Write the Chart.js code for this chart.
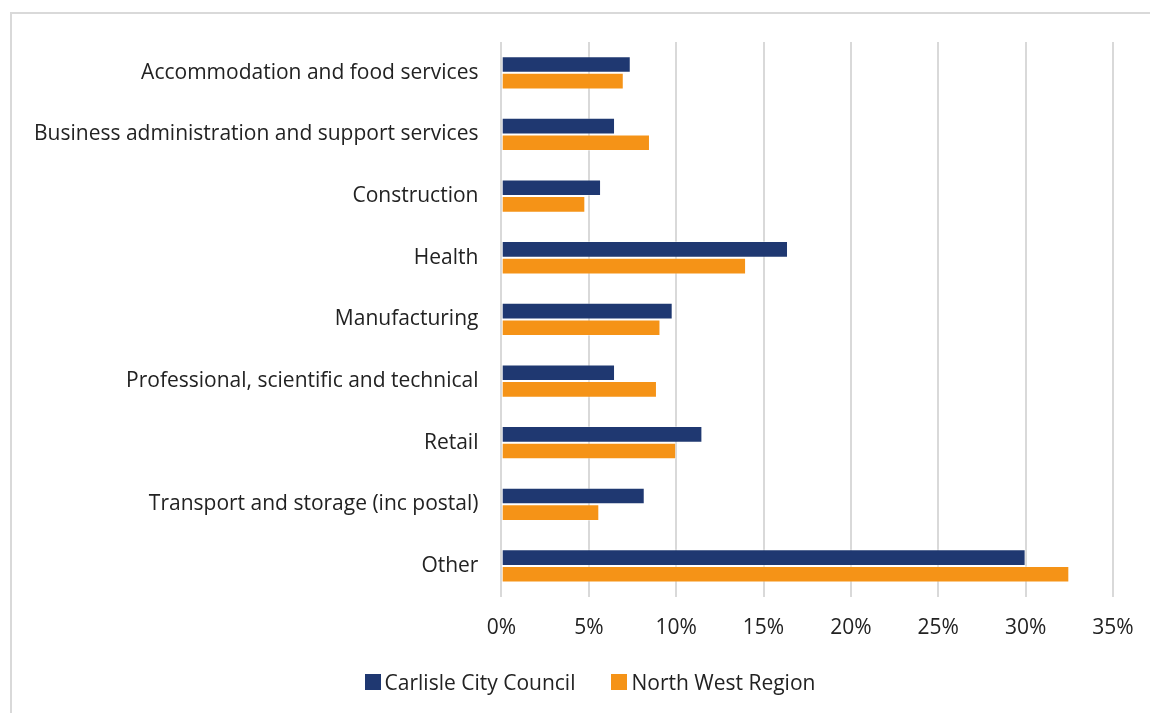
<!DOCTYPE html>
<html>
<head>
<meta charset="utf-8">
<script src="https://cdn.jsdelivr.net/npm/chart.js@4.4.1/dist/chart.umd.min.js"></script>
<style>
  html, body { margin: 0; padding: 0; background: #ffffff; }
  #frame {
    position: absolute; left: 10px; top: 12px; width: 1140px; height: 701px;
    border-top: 2px solid #d9d9d9; border-left: 2px solid #d9d9d9; box-sizing: border-box;
  }
  #wrap { position: absolute; left: 0; top: 0; width: 1150px; height: 713px; }
  #legend {
    position: absolute; top: 669px; left: 30px; width: 1120px; height: 26px;
    display: flex; justify-content: center; align-items: center;
    font-family: 'Open Sans', sans-serif; font-size: 21px; color: #222222;
  }
  .item { display: flex; align-items: center; margin: 0 18px; }
  .swatch { width: 16px; height: 16px; margin-right: 4px; }
</style>
</head>
<body>
<div id="frame"></div>
<div id="wrap"><canvas id="chart" width="1150" height="713"></canvas></div>
<div id="legend"></div>
<script>
// Industry sectors (share of employment, %)
const categories = [
  "Accommodation and food services",
  "Business administration and support services",
  "Construction",
  "Health",
  "Manufacturing",
  "Professional, scientific and technical",
  "Retail",
  "Transport and storage (inc postal)",
  "Other"
];
const carlisle = [7.4, 6.5, 5.7, 16.4, 9.8, 6.5, 11.5, 8.2, 30.0];
const northWest = [7.0, 8.5, 4.8, 14.0, 9.1, 8.9, 10.0, 5.6, 32.5];
const seriesNames = ["Carlisle City Council", "North West Region"];
const tickValues = [0, 5, 10, 15, 20, 25, 30, 35];

const NAVY = "#1f3871";
const ORANGE = "#f59317";
const FONT = "'Open Sans', sans-serif";
const seriesColors = [NAVY, ORANGE];

new Chart(document.getElementById("chart"), {
  type: "bar",
  data: {
    labels: categories,
    datasets: [
      { label: seriesNames[0], data: carlisle, backgroundColor: NAVY, borderColor: "rgba(255,255,255,0.35)", borderWidth: 1, borderSkipped: "start" },
      { label: seriesNames[1], data: northWest, backgroundColor: ORANGE, borderColor: "rgba(255,255,255,0.35)", borderWidth: 1, borderSkipped: "start" }
    ]
  },
  options: {
    indexAxis: "y",
    responsive: false,
    animation: false,
    devicePixelRatio: 1,
    layout: { padding: { left: 11, right: 37, top: 42, bottom: 53 } },
    datasets: { bar: { categoryPercentage: 0.54, barPercentage: 1.0 } },
    scales: {
      x: {
        min: 0, max: 35,
        afterBuildTicks: (axis) => { axis.ticks = tickValues.map(v => ({ value: v })); },
        // the outer label overhang is covered by the layout padding
        afterFit: (axis) => { axis.paddingRight = 0; axis.paddingLeft = 0; },
        grid: { color: "#d9d9d9", lineWidth: 2, drawTicks: false },
        border: { display: false },
        ticks: { padding: 19, color: "#222222", font: { family: FONT, size: 21 }, callback: (v) => v + "%" }
      },
      y: {
        grid: { display: false, drawTicks: false },
        border: { display: false },
        ticks: { padding: 23, color: "#222222", font: { family: FONT, size: 21 } }
      }
    },
    plugins: {
      tooltip: { enabled: false },
      legend: { display: false }
    }
  }
});

// Legend built from the series names and colours
const legend = document.getElementById("legend");
seriesNames.forEach((name, i) => {
  const item = document.createElement("div");
  item.className = "item";
  const sw = document.createElement("span");
  sw.className = "swatch";
  sw.style.background = seriesColors[i];
  const txt = document.createElement("span");
  txt.textContent = name;
  item.appendChild(sw);
  item.appendChild(txt);
  legend.appendChild(item);
});
</script>
</body>
</html>
